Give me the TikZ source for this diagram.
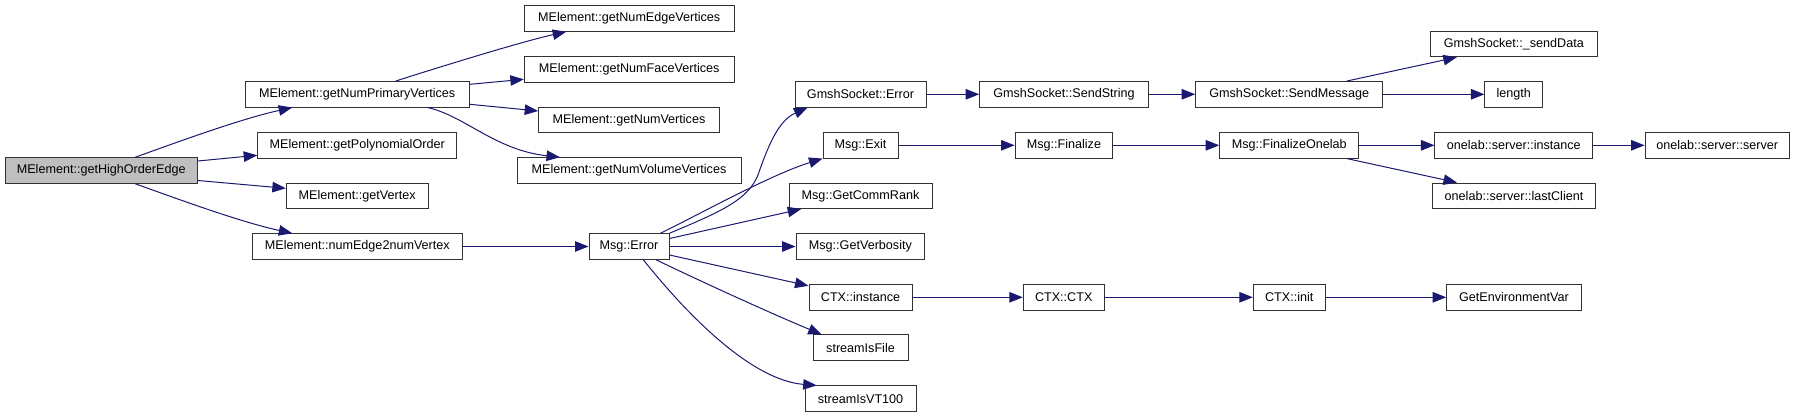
\documentclass[tikz,border=0pt]{standalone}
\usepackage{fontspec}
\setmainfont{Liberation Sans}
\usetikzlibrary{arrows.meta}
\definecolor{edgeblue}{RGB}{25,25,112}
\definecolor{boxline}{RGB}{50,50,50}
\definecolor{hoefill}{RGB}{191,191,191}
\tikzset{
  fbox/.style={draw=boxline, line width=1pt, minimum height=25.5pt, inner sep=0pt,
    font=\fontsize{12.6}{14}\selectfont, fill=white},
  call/.style={draw=edgeblue, line width=1pt, -{Triangle[length=13.5pt,width=10.5pt]}, edgeblue}
}
\begin{document}
\begin{tikzpicture}[x=1pt,y=-1pt]
\useasboundingbox (0,0) rectangle (1795,417);
% column 1
\node[fbox, fill=hoefill, minimum width=192.3pt] (hoe) at (101.2,170.5) {MElement::getHighOrderEdge};
% column 2
\node[fbox, minimum width=224.3pt] (npv) at (357.2,94.3) {MElement::getNumPrimaryVertices};
\node[fbox, minimum width=199pt] (poly) at (357.2,145.3) {MElement::getPolynomialOrder};
\node[fbox, minimum width=141.7pt] (vtx) at (357.2,195.8) {MElement::getVertex};
\node[fbox, minimum width=210pt] (n2v) at (357.3,246.5) {MElement::numEdge2numVertex};
% column 3
\node[fbox, minimum width=209.7pt] (nev) at (629.2,18.5) {MElement::getNumEdgeVertices};
\node[fbox, minimum width=209.7pt] (nfv) at (629.2,69.3) {MElement::getNumFaceVertices};
\node[fbox, minimum width=180.6pt] (nv) at (629.0,119.8) {MElement::getNumVertices};
\node[fbox, minimum width=224pt] (nvv) at (629.0,170.5) {MElement::getNumVolumeVertices};
\node[fbox, minimum width=80pt] (err) at (629.0,246.5) {Msg::Error};
% column 4
\node[fbox, minimum width=131pt] (gse) at (860.5,94.3) {GmshSocket::Error};
\node[fbox, minimum width=75pt] (exit) at (860.5,145.3) {Msg::Exit};
\node[fbox, minimum width=143pt] (rank) at (860.5,195.8) {Msg::GetCommRank};
\node[fbox, minimum width=128.7pt] (verb) at (860.4,246.5) {Msg::GetVerbosity};
\node[fbox, minimum width=103pt] (ctxi) at (860.5,297.3) {CTX::instance};
\node[fbox, minimum width=95pt] (sfile) at (860.5,347.7) {streamIsFile};
\node[fbox, minimum width=111pt] (vt) at (860.5,398.7) {streamIsVT100};
% column 5
\node[fbox, minimum width=168.6pt] (sstr) at (1064.0,94.3) {GmshSocket::SendString};
\node[fbox, minimum width=97.7pt] (fin) at (1063.9,145.3) {Msg::Finalize};
\node[fbox, minimum width=80.7pt] (ctxc) at (1063.7,297.3) {CTX::CTX};
% column 6
\node[fbox, minimum width=187pt] (smsg) at (1289.2,94.3) {GmshSocket::SendMessage};
\node[fbox, minimum width=139pt] (fon) at (1289.2,145.3) {Msg::FinalizeOnelab};
\node[fbox, minimum width=71.7pt] (init) at (1289.2,297.3) {CTX::init};
% column 7
\node[fbox, minimum width=167pt] (sdata) at (1513.8,44) {GmshSocket::\_sendData};
\node[fbox, minimum width=57.7pt] (len) at (1513.8,94.3) {length};
\node[fbox, minimum width=157.7pt] (osi) at (1513.8,145.3) {onelab::server::instance};
\node[fbox, minimum width=162.6pt] (olc) at (1514.0,195.8) {onelab::server::lastClient};
\node[fbox, minimum width=134.6pt] (env) at (1514.0,297.3) {GetEnvironmentVar};
% column 8
\node[fbox, minimum width=144.3pt] (oss) at (1717.2,145.3) {onelab::server::server};

% edges from getHighOrderEdge
\draw[call] ([xshift=34pt]hoe.north) .. controls (175,143) and (240,119) .. ([xshift=-65pt]npv.south);
\draw[call] ([yshift=9.5pt]hoe.east) -- ([yshift=-10pt]poly.west);
\draw[call] ([yshift=-10pt]hoe.east) -- ([yshift=7.5pt]vtx.west);
\draw[call] ([xshift=34pt]hoe.south) .. controls (175,198) and (240,222) .. ([xshift=-65pt]n2v.north);
% edges from getNumPrimaryVertices
\draw[call] ([xshift=38.5pt]npv.north) .. controls (430,70) and (520,42) .. ([xshift=-63pt]nev.south);
\draw[call] ([yshift=10pt]npv.east) -- ([yshift=-10pt]nfv.west);
\draw[call] ([yshift=-10pt]npv.east) -- ([yshift=8.8pt]nv.west);
\draw[call] ([xshift=70.5pt]npv.south) .. controls (465,116) and (495,150) .. ([xshift=-69pt]nvv.north);
% numEdge2numVertex
\draw[call] (n2v.east) -- (err.west);
% edges from Msg::Error
\draw[call] (err.north east) .. controls (720,212) and (748,200) .. (758,175)
  .. controls (770,140) and (780,120) .. ([xshift=-53pt]gse.south);
\draw[call] ([xshift=-9pt]err.north east) .. controls (700,214) and (770,175) .. (exit.south west);
\draw[call] ([yshift=8pt]err.east) -- ([xshift=12.7pt]rank.south west);
\draw[call] (err.east) -- (verb.west);
\draw[call] ([yshift=-8.5pt]err.east) -- ([yshift=11.5pt]ctxi.west);
\draw[call] ([xshift=27pt]err.south) .. controls (700,281) and (770,313) .. ([xshift=-38.8pt]sfile.north);
\draw[call] ([xshift=14.3pt]err.south) .. controls (685,312) and (750,380) .. ([xshift=-43.8pt]vt.north);
% GmshSocket chain
\draw[call] (gse.east) -- (sstr.west);
\draw[call] (sstr.east) -- (smsg.west);
\draw[call] ([xshift=57.5pt]smsg.north) -- ([xshift=-57pt]sdata.south);
\draw[call] (smsg.east) -- (len.west);
% Finalize chain
\draw[call] (exit.east) -- (fin.west);
\draw[call] (fin.east) -- (fon.west);
\draw[call] (fon.east) -- (osi.west);
\draw[call] ([xshift=57.5pt]fon.south) -- ([xshift=-57pt]olc.north);
\draw[call] (osi.east) -- (oss.west);
% CTX chain
\draw[call] (ctxi.east) -- (ctxc.west);
\draw[call] (ctxc.east) -- (init.west);
\draw[call] (init.east) -- (env.west);
\end{tikzpicture}
\end{document}
